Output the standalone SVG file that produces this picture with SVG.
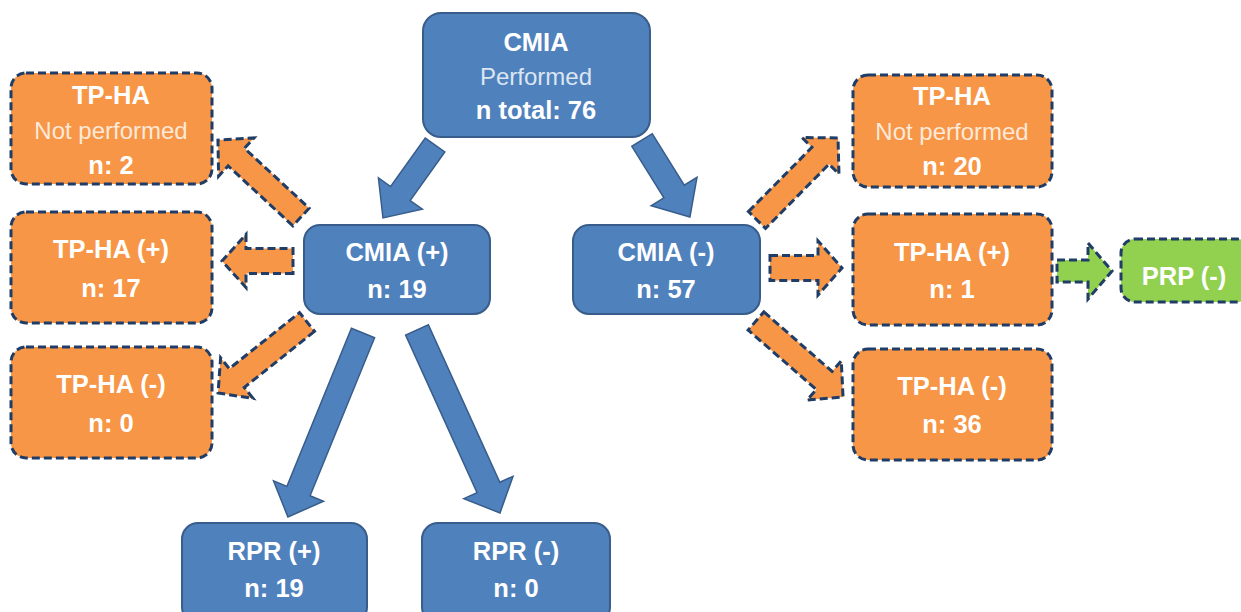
<svg xmlns="http://www.w3.org/2000/svg" width="1241" height="612" viewBox="0 0 1241 612">
<style>
.blue{fill:#4f81bd;stroke:#385d8a;stroke-width:2}
.org{fill:#f79646;stroke:#1f3d66;stroke-width:3;stroke-dasharray:8 4}
.grn{fill:#92d050;stroke:#1f3d66;stroke-width:3;stroke-dasharray:8 4}
.barrow{fill:#4f81bd;stroke:#385d8a;stroke-width:1.5}
.oarrow{fill:#f79646;stroke:#1f3d66;stroke-width:3;stroke-dasharray:8 4}
.garrow{fill:#92d050;stroke:#1f3d66;stroke-width:3;stroke-dasharray:8 4}
text{font-family:"Liberation Sans",Arial,sans-serif;font-size:24px;text-anchor:middle;fill:#ffffff}
.b{font-weight:bold;font-size:25.5px}
.lb{fill:#dce6f2}
.lo{fill:#fde9d9}
</style>
<rect width="1241" height="612" fill="#ffffff"/>
<g id="connectors">
<g transform="translate(435,145) rotate(125.5)"><polygon class="barrow" points="0,-12 59.6,-12 59.6,-27 89.6,0 59.6,27 59.6,12 0,12"/></g>
<g transform="translate(642,140) rotate(58.1)"><polygon class="barrow" points="0,-12 60.7,-12 60.7,-27 90.7,0 60.7,27 60.7,12 0,12"/></g>
<g transform="translate(363,333) rotate(112.2)"><polygon class="barrow" points="0,-12.5 170.7,-12.5 170.7,-27 198.7,0 170.7,27 170.7,12.5 0,12.5"/></g>
<g transform="translate(417,330) rotate(65.6)"><polygon class="barrow" points="0,-12.5 172.9,-12.5 172.9,-27 200.9,0 172.9,27 172.9,12.5 0,12.5"/></g>
<g transform="translate(301,217) rotate(-137.2)"><polygon class="oarrow" points="0,-12 88.2,-12 88.2,-26 113.2,0 88.2,26 88.2,12 0,12"/></g>
<g transform="translate(293,261) rotate(180)"><polygon class="oarrow" points="0,-12.5 47,-12.5 47,-26.5 71,0 47,26.5 47,12.5 0,12.5"/></g>
<g transform="translate(307,322) rotate(141.4)"><polygon class="oarrow" points="0,-12 89.8,-12 89.8,-26 113.8,0 89.8,26 89.8,12 0,12"/></g>
<g transform="translate(757,220) rotate(-45.35)"><polygon class="oarrow" points="0,-12 90.3,-12 90.3,-26 115.3,0 90.3,26 90.3,12 0,12"/></g>
<g transform="translate(770,268) rotate(0)"><polygon class="oarrow" points="0,-12.5 48,-12.5 48,-27 72,0 48,27 48,12.5 0,12.5"/></g>
<g transform="translate(756,321) rotate(41.1)"><polygon class="oarrow" points="0,-12 90.5,-12 90.5,-26 115.5,0 90.5,26 90.5,12 0,12"/></g>
<g transform="translate(1057,271)"><polygon class="garrow" points="0,-11 31,-11 31,-28 55,0 31,28 31,11 0,11"/></g>
</g>
<g id="cmia">
<rect class="blue" x="423" y="13" width="227" height="124" rx="18"/>
<text class="b" x="536" y="51">CMIA</text>
<text class="lb" x="536" y="85">Performed</text>
<text class="b" x="536" y="119">n total: 76</text>
</g>
<g id="cmia-pos">
<rect class="blue" x="304" y="225" width="186" height="89" rx="16"/>
<text class="b" x="397" y="261">CMIA (+)</text>
<text class="b" x="397" y="298">n: 19</text>
</g>
<g id="cmia-neg">
<rect class="blue" x="573" y="225" width="187" height="89" rx="16"/>
<text class="b" x="666" y="261">CMIA (-)</text>
<text class="b" x="666" y="298">n: 57</text>
</g>
<g id="tpha-np-left">
<rect class="org" x="11" y="73" width="201" height="111" rx="15"/>
<text class="b" x="111" y="104">TP-HA</text>
<text class="lo" x="111" y="139">Not performed</text>
<text class="b" x="111" y="174">n: 2</text>
</g>
<g id="tpha-pos-left">
<rect class="org" x="11" y="212" width="201" height="111" rx="15"/>
<text class="b" x="111" y="258">TP-HA (+)</text>
<text class="b" x="111" y="297">n: 17</text>
</g>
<g id="tpha-neg-left">
<rect class="org" x="11" y="347" width="201" height="111" rx="15"/>
<text class="b" x="111" y="393">TP-HA (-)</text>
<text class="b" x="111" y="432">n: 0</text>
</g>
<g id="tpha-np-right">
<rect class="org" x="853" y="75" width="199" height="112" rx="15"/>
<text class="b" x="952" y="105">TP-HA</text>
<text class="lo" x="952" y="140">Not performed</text>
<text class="b" x="952" y="175">n: 20</text>
</g>
<g id="tpha-pos-right">
<rect class="org" x="853" y="214" width="199" height="111" rx="15"/>
<text class="b" x="952" y="261">TP-HA (+)</text>
<text class="b" x="952" y="298">n: 1</text>
</g>
<g id="tpha-neg-right">
<rect class="org" x="853" y="349" width="199" height="111" rx="15"/>
<text class="b" x="952" y="395">TP-HA (-)</text>
<text class="b" x="952" y="433">n: 36</text>
</g>
<g id="prp-neg">
<rect class="grn" x="1121" y="239" width="130" height="63" rx="14"/>
<text class="b" x="1184" y="285">PRP (-)</text>
</g>
<g id="rpr-pos">
<rect class="blue" x="182" y="523" width="185" height="100" rx="16"/>
<text class="b" x="274" y="560">RPR (+)</text>
<text class="b" x="274" y="597">n: 19</text>
</g>
<g id="rpr-neg">
<rect class="blue" x="422" y="523" width="188" height="100" rx="16"/>
<text class="b" x="516" y="560">RPR (-)</text>
<text class="b" x="516" y="597">n: 0</text>
</g>
</svg>
